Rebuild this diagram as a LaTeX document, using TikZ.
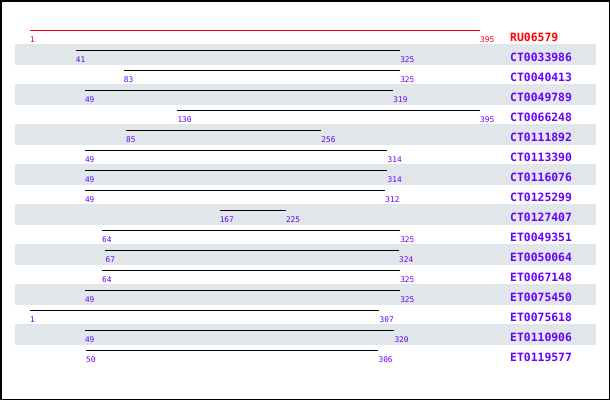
\documentclass[tikz,border=0pt]{standalone}
\usepackage{fontspec}
\setmonofont{DejaVu Sans Mono}
\definecolor{lblue}{RGB}{102,0,255}
\definecolor{lred}{RGB}{255,0,0}
\definecolor{band}{RGB}{225,230,234}
\tikzset{
  seqline/.style={line width=1pt},
  numlbl/.style={anchor=base west, inner sep=0pt, font=\ttfamily\fontsize{7.8}{8}\selectfont},
  namelbl/.style={anchor=base west, inner sep=0pt, font=\ttfamily\bfseries\fontsize{11.4}{12}\selectfont},
  bandbox/.style={fill=band, draw=none}
}
\begin{document}
\begin{tikzpicture}[x=1pt,y=-1pt]
\useasboundingbox (0,0) rectangle (610,400);
\foreach \i/\nm/\s/\e in {0/RU06579/1/395, 1/CT0033986/41/325, 2/CT0040413/83/325, 3/CT0049789/49/319,
  4/CT0066248/130/395, 5/CT0111892/85/256, 6/CT0113390/49/314, 7/CT0116076/49/314,
  8/CT0125299/49/312, 9/CT0127407/167/225, 10/ET0049351/64/325, 11/ET0050064/67/324,
  12/ET0067148/64/325, 13/ET0075450/49/325, 14/ET0075618/1/307, 15/ET0110906/49/320,
  16/ET0119577/50/306}{
  \pgfmathsetmacro{\yy}{30+20*\i}
  \pgfmathsetmacro{\xs}{30+(\s-1)*1.142132}
  \pgfmathsetmacro{\xe}{30+(\e-1)*1.142132}
  \pgfmathtruncatemacro{\odd}{mod(\i,2)}
  \ifnum\odd=1
    \fill[bandbox] (15,\yy-6) rectangle (596,\yy+14.5);
  \fi
  \ifnum\i=0 \def\col{lred}\else\def\col{lblue}\fi
  \coordinate (s\i) at (\xs,\yy);
  \coordinate (e\i) at (\xe,\yy);
  \ifnum\i=0
    \draw[seqline, lred] (s\i) -- (e\i);
  \else
    \draw[seqline, black] (s\i) -- (e\i);
  \fi
  \node[numlbl, text=\col] (ns\i) at (\xs,\yy+12) {\s};
  \node[numlbl, text=\col] (ne\i) at (\xe,\yy+12) {\e};
  \node[namelbl, text=\col] (name\i) at (510,\yy+11) {\nm};
}
\draw[line width=1.5pt] (0.75,0.75) rectangle (609.25,399.25);
\end{tikzpicture}
\end{document}
